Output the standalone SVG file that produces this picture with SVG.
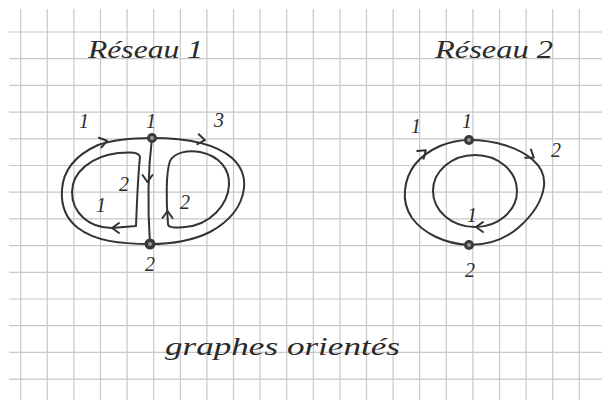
<svg xmlns="http://www.w3.org/2000/svg" width="602" height="400" viewBox="0 0 602 400">
<defs>
<style>
.grid{stroke:#c8c8c8;stroke-width:1.2;fill:none}
.edge{stroke:#333;stroke-width:2;fill:none;stroke-linecap:round;stroke-linejoin:round}
.arr{stroke:#333;stroke-width:2;fill:none;stroke-linecap:round;stroke-linejoin:round}
.lbl{font-family:"Liberation Serif",serif;font-style:italic;font-size:20px;fill:#2a2a2a;text-anchor:middle}
.title{font-family:"Liberation Serif",serif;font-style:italic;font-size:26px;fill:#2a2a2a}
.node-o{fill:#3a3a3a}
.node-i{fill:#9a9a9a}
</style>
<path id="chev" d="M -6 -5 L 1 0 L -6 5"/>
</defs>
<rect width="602" height="400" fill="#fff"/>
<g id="grid" class="grid">
<path d="M20.7 9V400M47.3 9V400M73.9 9V400M100.5 9V400M127.1 9V400M153.7 9V400M180.3 9V400M206.9 9V400M233.5 9V400M260.1 9V400M286.7 9V400M313.3 9V400M339.9 9V400M366.5 9V400M393.1 9V400M419.7 9V400M446.3 9V400M472.9 9V400M499.5 9V400M526.1 9V400M552.7 9V400M579.3 9V400"/>
<path d="M9 32H602M9 58.7H602M9 85.4H602M9 112.1H602M9 138.8H602M9 165.5H602M9 192.2H602M9 218.9H602M9 245.6H602M9 272.3H602M9 299H602M9 325.7H602M9 352.4H602M9 379.1H602"/>
</g>
<g id="connectors">
<!-- Reseau 1 -->
<path class="edge" d="M150 244 C 120 244 95 241 78 228 C 65 218 61 204 62 190 C 63 170 76 155 98 145 C 115 139 132 138 152 138"/>
<path class="edge" d="M152 138 C 185 138 215 143 232 158 C 242 167 245 178 244 188 C 242 205 232 220 210 232 C 192 241 172 244 150 244"/>
<path class="edge" d="M152 138 C 148 170 147 200 150 244"/>
<path class="edge" d="M136 226 C 137 200 138 175 140 157 C 139 152 132 152 118 153 C 92 156 72 172 72 192 C 72 212 88 228 112 228 L 136 226"/>
<path class="edge" d="M168 224 C 166 200 166 172 170 161 C 175 152 188 150 200 152 C 220 156 230 170 229 185 C 228 205 210 225 185 227 C 176 228 168 228 168 224"/>
<use href="#chev" class="arr" transform="translate(106 141) rotate(-15)"/>
<use href="#chev" class="arr" transform="translate(204 140) rotate(8)"/>
<use href="#chev" class="arr" transform="translate(147.5 181) rotate(90)"/>
<use href="#chev" class="arr" transform="translate(113 228) rotate(180)"/>
<use href="#chev" class="arr" transform="translate(167.5 212) rotate(-90)"/>
<!-- Reseau 2 -->
<path class="edge" d="M469 245 C 445 244 423 233 412 218 C 406 209 404 199 405 190 C 407 170 420 155 440 146 C 450 142 460 140 469 140"/>
<path class="edge" d="M469 140 C 495 140 520 148 533 160 C 542 168 545 177 544 186 C 542 202 533 215 518 228 C 505 239 488 245 469 245"/>
<ellipse class="edge" cx="475" cy="191" rx="42" ry="36"/>
<use href="#chev" class="arr" transform="translate(425 151) rotate(-40)"/>
<use href="#chev" class="arr" transform="translate(533 157) rotate(35)"/>
<use href="#chev" class="arr" transform="translate(477 227) rotate(180)"/>
</g>
<g id="r1-node1"><circle class="node-o" cx="152" cy="138" r="5"/><circle class="node-i" cx="152" cy="138" r="2"/></g>
<g id="r1-node2"><circle class="node-o" cx="150" cy="244" r="5.5"/><circle class="node-i" cx="150" cy="244" r="2"/></g>
<g id="r2-node1"><circle class="node-o" cx="469" cy="140" r="5"/><circle class="node-i" cx="469" cy="140" r="2"/></g>
<g id="r2-node2"><circle class="node-o" cx="469" cy="245" r="5"/><circle class="node-i" cx="469" cy="245" r="2"/></g>
<g id="labels">
<text class="lbl" x="84" y="128">1</text>
<text class="lbl" x="151" y="128">1</text>
<text class="lbl" x="219" y="127">3</text>
<text class="lbl" x="150" y="271">2</text>
<text class="lbl" x="124" y="191">2</text>
<text class="lbl" x="101" y="212">1</text>
<text class="lbl" x="185" y="209">2</text>
<text class="lbl" x="416" y="133">1</text>
<text class="lbl" x="467" y="128">1</text>
<text class="lbl" x="556" y="157">2</text>
<text class="lbl" x="470" y="277">2</text>
<text class="lbl" x="472" y="222">1</text>
</g>
<g id="titles">
<text class="title" x="88" y="58" textLength="115" lengthAdjust="spacingAndGlyphs">Réseau 1</text>
<text class="title" x="435" y="58" textLength="118" lengthAdjust="spacingAndGlyphs">Réseau 2</text>
<text class="title" x="165" y="355" font-size="34" textLength="235" lengthAdjust="spacingAndGlyphs">graphes orientés</text>
</g>
</svg>
